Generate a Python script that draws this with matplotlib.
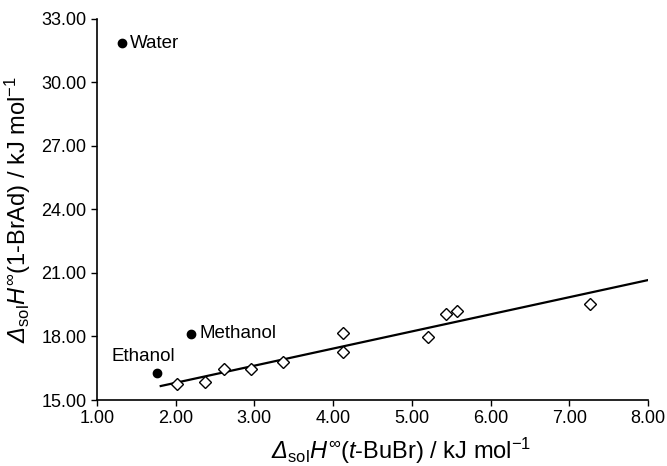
import numpy as np
import matplotlib
matplotlib.use('Agg')
import matplotlib.pyplot as plt

plt.rcParams['font.family'] = ['Liberation Sans', 'DejaVu Sans']
plt.rcParams['mathtext.fontset'] = 'custom'
plt.rcParams['mathtext.rm'] = 'Liberation Sans'
plt.rcParams['mathtext.it'] = 'Liberation Sans:italic'
plt.rcParams['mathtext.sf'] = 'Liberation Sans:italic'  # used for the italic Delta
plt.rcParams['mathtext.bf'] = 'Liberation Sans:bold'

# solvents (diamonds)
bubr_x = [2.02, 2.37, 2.62, 2.96, 3.36, 4.13, 4.13, 5.20, 5.44, 5.57, 7.26]
brad_y = [15.75, 15.86, 16.45, 16.46, 16.78, 18.17, 17.28, 17.99, 19.07, 19.21, 19.54]

# alcohols / water (filled circles)
labels = ['Water', 'Methanol', 'Ethanol']
lab_x = [1.32, 2.20, 1.76]
lab_y = [31.85, 18.10, 16.26]

# regression line ends
line_x = [1.81, 8.00]
line_y = [15.66, 20.66]

xticks = [1, 2, 3, 4, 5, 6, 7, 8]
yticks = [15, 18, 21, 24, 27, 30, 33]

fig = plt.figure(figsize=(6.67, 4.66), dpi=100)
ax = fig.add_axes([0.1454, 0.1416, 0.826, 0.8184])

ax.plot(line_x, line_y, color='black', lw=1.6, zorder=2)
ax.plot(bubr_x, brad_y, ls='none', marker='D', ms=6, mfc='white', mec='black', mew=1.0, zorder=3)
ax.plot(lab_x, lab_y, ls='none', marker='o', ms=6, color='black', zorder=3)

# text placement for each labelled point (pixels)
offsets = {'Water': (8, 0, 'left'), 'Methanol': (8, 1, 'left'), 'Ethanol': (-13, 17, 'center')}
for name, x, y in zip(labels, lab_x, lab_y):
    dx, dy, ha = offsets[name]
    ax.annotate(name, (x, y), xytext=(dx, dy), textcoords='offset pixels',
                ha=ha, va='center', fontsize=13.5)

ax.set_xlim(1, 8)
ax.set_ylim(15, 33)
ax.set_xticks(xticks)
ax.set_yticks(yticks)
ax.set_xticklabels(['%.2f' % v for v in xticks])
ax.set_yticklabels(['%.2f' % v for v in yticks])
ax.tick_params(labelsize=13, length=4, width=1, direction='out')

ax.spines['top'].set_visible(False)
ax.spines['right'].set_visible(False)
ax.spines['left'].set_linewidth(1.2)
ax.spines['bottom'].set_linewidth(1.2)

ax.set_xlabel(r'$\mathsf{Δ}_{\mathrm{sol}}\mathit{H}^{\infty}$($\mathit{t}$-BuBr) / kJ mol$^{-1}$',
              fontsize=17)
ax.xaxis.set_label_coords(0.553, -0.095)
ax.set_ylabel(r'$\mathsf{Δ}_{\mathrm{sol}}\mathit{H}^{\infty}$(1-BrAd) / kJ mol$^{-1}$',
              fontsize=17, labelpad=6)

fig.savefig('out.png', dpi=100)
